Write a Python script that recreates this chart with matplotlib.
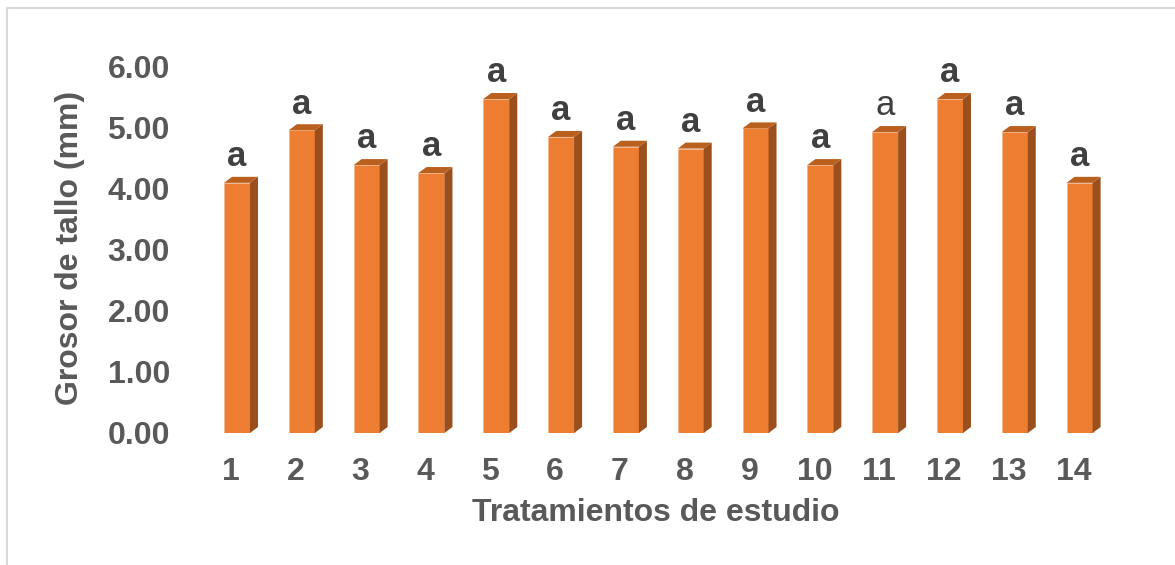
import matplotlib.pyplot as plt
import matplotlib.transforms as mtransforms
from matplotlib.patches import Polygon, Rectangle

tratamientos = ["1", "2", "3", "4", "5", "6", "7", "8", "9", "10", "11", "12", "13", "14"]
grosor = [4.09, 4.95, 4.38, 4.25, 5.46, 4.84, 4.68, 4.65, 4.98, 4.38, 4.92, 5.46, 4.92, 4.09]
letras = ["a"] * 14
yticks = [0, 1, 2, 3, 4, 5, 6]

plt.rcParams["font.family"] = ["Liberation Sans", "DejaVu Sans"]

W, H = 1175, 565
fig = plt.figure(figsize=(W / 100, H / 100), dpi=100)

# marco gris claro del grafico
fig.patches.append(Rectangle((7 / W, -0.1), 1.2, (H - 8) / H + 0.1,
                             transform=fig.transFigure, fill=False,
                             edgecolor="#d9d9d9", linewidth=1.5))

ax = fig.add_axes([204.6 / W, (H - 433) / H, (1112 - 204.6) / W, (433 - 66) / H])
n = len(grosor)
xs = list(range(n))
ax.set_xlim(-0.5, n - 0.5)
ax.set_ylim(0, 6)

# conversion de pixeles a unidades de datos
px_x = n / (1112 - 204.6)
px_y = 6 / (433 - 66)
w = 26 * px_x
dx = 8 * px_x
dy = 6 * px_y

frente = "#ed7d31"
lado = "#9a4f1d"
tapa = "#b9601f"

for x, v in zip(xs, grosor):
    x0 = x - w / 2
    x1 = x + w / 2
    ax.add_patch(Rectangle((x0, 0), w, v, facecolor=frente, edgecolor="#f3b78f", linewidth=0.6))
    ax.add_patch(Polygon([(x1, 0), (x1 + dx, dy), (x1 + dx, v + dy), (x1, v)],
                         closed=True, facecolor=lado, edgecolor="none"))
    ax.add_patch(Polygon([(x0, v), (x0 + dx, v + dy), (x1 + dx, v + dy), (x1, v)],
                         closed=True, facecolor=tapa, edgecolor="none"))

for i, (x, v, t) in enumerate(zip(xs, grosor, letras)):
    ax.annotate(t, (x, v), xytext=(0, 12), textcoords="offset points",
                ha="center", va="baseline", fontsize=25,
                fontweight="normal" if i == 10 else "bold",
                color="#404040", annotation_clip=False)

ax.set_xticks(xs)
ax.set_xticklabels(tratamientos)
ax.set_yticks(yticks)
ax.set_yticklabels([f"{t:.2f}" for t in yticks])
ax.tick_params(axis="both", length=0, labelsize=23, labelcolor="#595959")
ax.tick_params(axis="x", pad=17)
ax.tick_params(axis="y", pad=25)
# etiquetas del eje x un poco a la izquierda, como en el original
shift = mtransforms.ScaledTranslation(-6 / 100, 0, fig.dpi_scale_trans)
for lbl in ax.get_xticklabels():
    lbl.set_transform(lbl.get_transform() + shift)
for lbl in ax.get_xticklabels() + ax.get_yticklabels():
    lbl.set_fontweight("bold")
for s in ax.spines.values():
    s.set_visible(False)

fig.text(656 / W, 1 - 513 / H, "Tratamientos de estudio", ha="center", va="center",
         fontsize=23, fontweight="bold", color="#595959")
fig.text(70 / W, 1 - 248 / H, "Grosor de tallo (mm)", ha="center", va="center",
         rotation=90, fontsize=23, fontweight="bold", color="#595959")

fig.savefig("out.png", dpi=100)
